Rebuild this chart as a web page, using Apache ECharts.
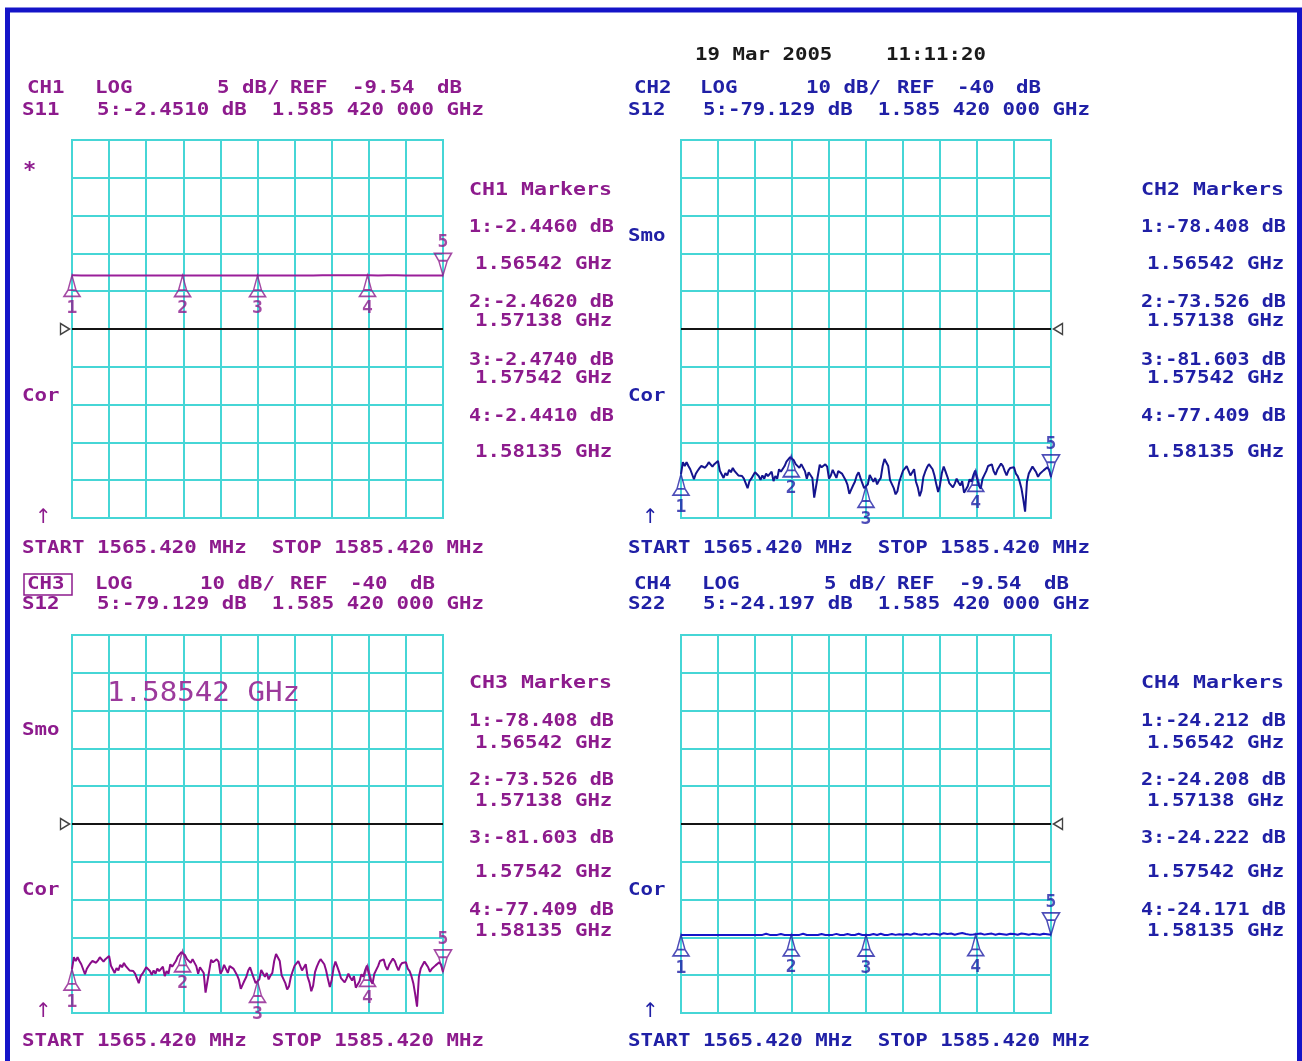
<!DOCTYPE html>
<html>
<head>
<meta charset="utf-8">
<script src="https://cdn.jsdelivr.net/npm/echarts@6/dist/echarts.min.js"></script>
<style>
  html, body { margin: 0; padding: 0; background: #ffffff; }
  #chart { width: 1302px; height: 1061px; }
</style>
</head>
<body>
<div id="chart"></div>
<script>
// Sweep settings shared by all four channels
const START_MHZ = 1565.42;
const STOP_MHZ = 1585.42;

// Marker frequencies (GHz), markers 1..5
const markerFreqGHz = [1.56542, 1.57138, 1.57542, 1.58135, 1.58542];

// Marker readouts (dB) per channel, markers 1..5
const s11Markers = [-2.4460, -2.4620, -2.4740, -2.4410, -2.4510];
const s12Markers = [-78.408, -73.526, -81.603, -77.409, -79.129];
const s22Markers = [-24.212, -24.208, -24.222, -24.171, -24.197];

// S11 trace, 41 points over the sweep (dB)
const s11Trace = [
  -2.446, -2.448, -2.451, -2.455, -2.452, -2.449, -2.453, -2.458, -2.455, -2.460,
  -2.462, -2.459, -2.462, -2.466, -2.470, -2.468, -2.472, -2.469, -2.471, -2.474,
  -2.474, -2.470, -2.466, -2.461, -2.457, -2.452, -2.449, -2.446, -2.443, -2.441,
  -2.441, -2.443, -2.445, -2.447, -2.444, -2.446, -2.449, -2.447, -2.450, -2.452,
  -2.451
];

// S12 trace, 201 points over the sweep (dB)
const s12Trace = [
  -78.41, -75.25, -76.25, -75.25, -76.25, -77.1, -76.7, -79.75, -78.3, -77.5,
  -76.8, -76.25, -75.9, -76.7, -76.1, -75.25, -74.75, -76.4, -75.75, -75.4,
  -74.9, -77.5, -77.5, -79.4, -78.1, -78.75, -77.25, -77.9, -76.75, -77.6,
  -78.1, -78.75, -78.25, -78.9, -79.6, -79.2, -82.1, -80.25, -79.6, -78.75,
  -77.9, -77.6, -78.9, -79.9, -78.75, -79.6, -78.25, -78.9, -79.4, -77.75,
  -80.25, -78.9, -79.6, -77.1, -77.75, -77.25, -76.25, -75.1, -74.6, -73.9,
  -73.55, -74.75, -75.75, -76.25, -76.75, -75.75, -76.25, -77.6, -79.6, -77.9,
  -77.6, -79.4, -84.6, -84.2, -78.75, -75.9, -76.6, -76.25, -75.8, -76.4,
  -79.6, -78.75, -77.25, -77.75, -79.4, -77.6, -78.1, -78.25, -78.75, -80.0,
  -81.25, -83.6, -82.5, -81.4, -80.4, -78.75, -77.9, -79.4, -80.8, -82.1,
  -81.6, -81.1, -78.6, -78.9, -80.4, -79.4, -81.1, -80.1, -79.4, -76.25,
  -74.4, -74.6, -76.25, -80.0, -80.4, -82.1, -83.75, -82.9, -80.4, -78.9,
  -77.5, -77.9, -76.25, -75.8, -78.75, -78.3, -77.1, -80.4, -81.9, -84.25,
  -82.75, -79.2, -77.75, -76.6, -75.75, -75.9, -77.1, -78.75, -81.1, -83.1,
  -81.25, -78.1, -76.4, -77.75, -79.1, -80.75, -80.4, -81.9, -80.9, -79.6,
  -80.6, -81.4, -80.25, -83.3, -83.3, -81.6, -79.75, -80.4, -78.75, -77.45,
  -79.6, -81.4, -82.25, -79.6, -78.6, -77.6, -76.25, -76.75, -75.8, -77.6,
  -78.6, -77.25, -77.75, -75.6, -76.25, -77.6, -78.75, -77.4, -76.75, -76.9,
  -76.6, -78.25, -78.9, -80.25, -82.1, -85.0, -88.3, -80.4, -78.25, -77.75,
  -76.4, -76.9, -77.9, -79.1, -78.3, -78.6, -77.4, -76.9, -76.6, -77.25,
  -79.13
];

// S22 trace, 101 points over the sweep (dB)
const s22Trace = [
  -24.212, -24.210, -24.211, -24.213, -24.210, -24.209, -24.212, -24.211, -24.210, -24.208,
  -24.212, -24.211, -24.209, -24.210, -24.212, -24.213, -24.211, -24.208, -24.210, -24.209,
  -24.211, -24.207, -24.210, -24.050, -24.209, -24.212, -24.208, -24.100, -24.210, -24.208,
  -24.208, -24.209, -24.211, -24.060, -24.212, -24.210, -24.209, -24.212, -24.080, -24.211,
  -24.213, -24.209, -24.070, -24.215, -24.212, -24.100, -24.216, -24.218, -24.050, -24.220,
  -24.222, -24.219, -24.090, -24.217, -24.060, -24.214, -24.210, -24.080, -24.205, -24.120,
  -24.203, -24.100, -24.199, -24.020, -24.120, -24.195, -24.070, -24.190, -24.040, -24.100,
  -24.186, -23.980, -24.080, -24.020, -24.180, -24.050, -23.970, -24.090, -24.174, -24.171,
  -24.100, -24.020, -24.175, -24.080, -24.040, -24.180, -24.060, -24.120, -24.183, -24.050,
  -24.100, -24.186, -24.030, -24.090, -24.190, -24.070, -24.130, -24.193, -24.060, -24.120,
  -24.197
];

// ---- styling ----
const PURPLE = '#8d1b8d';
const BLUE = '#2020a6';
const GRID_CYAN = '#46d6d6';
const FONT = 'bold 17px "DejaVu Sans Mono"';
const TEXT_SX = 1.22;

// Marker glyphs: up-pointing marker sits below the trace, down-pointing above it
const MARK_UP = 'path://M8,0L4.5,14L11.5,14ZM4.5,14L1,20L15,20L11.5,14';
const MARK_DOWN = 'path://M1,0L15,0L11.5,7L4.5,7ZM4.5,7L11.5,7L8,21Z';
const REF_RIGHT = 'path://M0,0L10,5L0,10Z';
const REF_LEFT = 'path://M10,0L0,5L10,10Z';

const panels = [
  { name: 'CH1', param: 'S11', trace: s11Trace, markers: s11Markers, ref: -9.54, perDiv: 5, digits: 4,
    rect: { left: 72, top: 140, width: 371, height: 378 }, traceColor: '#9a1f9a', color: PURPLE, refSide: 'left' },
  { name: 'CH2', param: 'S12', trace: s12Trace, markers: s12Markers, ref: -40, perDiv: 10, digits: 3,
    rect: { left: 681, top: 140, width: 370, height: 378 }, traceColor: '#14148e', color: BLUE, refSide: 'right' },
  { name: 'CH3', param: 'S12', trace: s12Trace, markers: s12Markers, ref: -40, perDiv: 10, digits: 3,
    rect: { left: 72, top: 635, width: 371, height: 378 }, traceColor: '#8a0c8a', color: PURPLE, refSide: 'left' },
  { name: 'CH4', param: 'S22', trace: s22Trace, markers: s22Markers, ref: -9.54, perDiv: 5, digits: 3,
    rect: { left: 681, top: 635, width: 370, height: 378 }, traceColor: '#1616c8', color: BLUE, refSide: 'right' }
];

const grids = [], xAxes = [], yAxes = [], series = [];

panels.forEach((p, k) => {
  grids.push(Object.assign({ show: true, borderColor: GRID_CYAN, borderWidth: 2, backgroundColor: 'transparent' }, p.rect));
  const hidden = { show: false };
  // graticule: 10 x 10 divisions
  const grat = {
    gridIndex: k, type: 'value', min: 0, max: 10, interval: 1,
    axisLine: hidden, axisTick: hidden, axisLabel: hidden,
    splitLine: { show: true, lineStyle: { color: GRID_CYAN, width: 2 } }
  };
  xAxes.push(Object.assign({}, grat));
  yAxes.push(Object.assign({}, grat));
  // measurement scales
  xAxes.push({ gridIndex: k, type: 'value', min: START_MHZ, max: STOP_MHZ, show: false });
  yAxes.push({ gridIndex: k, type: 'value', min: p.ref - 5 * p.perDiv, max: p.ref + 5 * p.perDiv, show: false });

  const xi = 2 * k + 1, yi = 2 * k + 1;
  const n = p.trace.length;
  const step = (STOP_MHZ - START_MHZ) / (n - 1);

  series.push({
    type: 'line', xAxisIndex: xi, yAxisIndex: yi, z: 4,
    data: p.trace.map((v, i) => [START_MHZ + i * step, v]),
    showSymbol: false, symbol: 'none', animation: false, silent: true,
    lineStyle: { color: p.traceColor, width: 2 },
    markLine: {
      silent: true, symbol: ['none', 'none'], animation: false,
      label: { show: false },
      lineStyle: { color: '#141414', width: 2, type: 'solid' },
      data: [{ yAxis: p.ref }]
    }
  });

  // reference position pointer
  series.push({
    type: 'scatter', xAxisIndex: xi, yAxisIndex: yi, z: 5, clip: false, silent: true, animation: false,
    data: [[p.refSide === 'left' ? START_MHZ : STOP_MHZ, p.ref]],
    symbol: p.refSide === 'left' ? REF_RIGHT : REF_LEFT,
    symbolSize: [9, 11],
    symbolOffset: [p.refSide === 'left' ? -7 : 7, 0],
    itemStyle: { color: 'rgba(255,255,255,0)', borderColor: '#141414', borderWidth: 1.5 }
  });

  // markers 1..4
  series.push({
    type: 'scatter', xAxisIndex: xi, yAxisIndex: yi, z: 6, clip: false, silent: true, animation: false,
    data: markerFreqGHz.slice(0, 4).map((f, i) => [f * 1000, p.markers[i]]),
    symbol: MARK_UP, symbolSize: [16, 21], symbolOffset: [0, '50%'],
    itemStyle: { color: 'rgba(255,255,255,0)', borderColor: p.color, borderWidth: 1.6 },
    label: {
      show: true, position: 'bottom', distance: 2,
      formatter: (d) => String(d.dataIndex + 1),
      color: p.color, fontFamily: 'DejaVu Sans Mono', fontWeight: 'bold', fontSize: 18
    }
  });

  // marker 5 (active marker)
  series.push({
    type: 'scatter', xAxisIndex: xi, yAxisIndex: yi, z: 6, clip: false, silent: true, animation: false,
    data: [[markerFreqGHz[4] * 1000, p.markers[4]]],
    symbol: MARK_DOWN, symbolSize: [17, 22], symbolOffset: [0, '-50%'],
    itemStyle: { color: 'rgba(255,255,255,0)', borderColor: p.color, borderWidth: 1.6 },
    label: {
      show: true, position: 'top', distance: 1,
      formatter: '5',
      color: p.color, fontFamily: 'DejaVu Sans Mono', fontWeight: 'bold', fontSize: 18
    }
  });
});

// ---- annotation text ----
function txt(str, x, y, color, font, sx) {
  return {
    type: 'text', x: x, y: y, scaleX: sx || TEXT_SX, z: 10, silent: true,
    style: { text: str, fill: color, font: font || FONT, textVerticalAlign: 'middle', verticalAlign: 'middle' }
  };
}

function fmtFreq(ghz) {
  const s = ghz.toFixed(9);            // 1.585420000
  return s.slice(0, 5) + ' ' + s.slice(5, 8) + ' ' + s.slice(8, 11);
}

const texts = [];

// date / time stamp
texts.push(txt('19 Mar 2005', 695, 56, '#1a1a1a'));
texts.push(txt('11:11:20', 886, 56, '#1a1a1a'));

// channel header lines
const headerRows = [
  { p: 0, x: 27, y: 89, tokens: [['CH1', 0], ['LOG', 68], ['5 dB/', 190], ['REF', 263], ['-9.54', 325], ['dB', 410]] },
  { p: 1, x: 634, y: 89, tokens: [['CH2', 0], ['LOG', 66], ['10 dB/', 172], ['REF', 263], ['-40', 323], ['dB', 382]] },
  { p: 2, x: 27, y: 585, tokens: [['CH3', 0], ['LOG', 68], ['10 dB/', 173], ['REF', 263], ['-40', 323], ['dB', 383]] },
  { p: 3, x: 634, y: 585, tokens: [['CH4', 0], ['LOG', 68], ['5 dB/', 190], ['REF', 263], ['-9.54', 325], ['dB', 410]] }
];
headerRows.forEach(r => {
  const c = panels[r.p].color;
  r.tokens.forEach(t => texts.push(txt(t[0], r.x + t[1], r.y, c)));
});

const paramRows = [
  { p: 0, x: 22, y: 111 }, { p: 1, x: 628, y: 111 },
  { p: 2, x: 22, y: 605 }, { p: 3, x: 628, y: 605 }
];
paramRows.forEach(r => {
  const P = panels[r.p];
  const v = P.markers[4].toFixed(P.digits);
  texts.push(txt(P.param + '   5:' + v + ' dB  ' + fmtFreq(markerFreqGHz[4]) + ' GHz', r.x, r.y, P.color));
});

// box around the active channel label
const chBox = { type: 'rect', z: 10, silent: true, shape: { x: 24, y: 574, width: 48, height: 21 },
  style: { fill: 'none', stroke: PURPLE, lineWidth: 1.5 } };

// status annotations beside each graticule
const ARROW_FONT = 'normal 20px "DejaVu Sans"';
texts.push(txt('*', 23, 171, PURPLE, 'bold 22px "DejaVu Sans Mono"', 1));
texts.push(txt('Cor', 22, 397, PURPLE));
texts.push(txt('\u2191', 35, 518, PURPLE, ARROW_FONT, 1));
texts.push(txt('Smo', 628, 237, BLUE));
texts.push(txt('Cor', 628, 397, BLUE));
texts.push(txt('\u2191', 642, 518, BLUE, ARROW_FONT, 1));
texts.push(txt('Smo', 22, 731, PURPLE));
texts.push(txt('Cor', 22, 891, PURPLE));
texts.push(txt('\u2191', 35, 1012, PURPLE, ARROW_FONT, 1));
texts.push(txt('Cor', 628, 891, BLUE));
texts.push(txt('\u2191', 642, 1012, BLUE, ARROW_FONT, 1));

// sweep range lines
const sweepText = 'START ' + START_MHZ.toFixed(3) + ' MHz  STOP ' + STOP_MHZ.toFixed(3) + ' MHz';
texts.push(txt(sweepText, 22, 549, PURPLE));
texts.push(txt(sweepText, 628, 549, BLUE));
texts.push(txt(sweepText, 22, 1042, PURPLE));
texts.push(txt(sweepText, 628, 1042, BLUE));

// active marker frequency shown inside CH3
texts.push(txt(markerFreqGHz[4].toFixed(5) + ' GHz', 107, 694, '#9c3a9c', 'normal 27px "DejaVu Sans Mono"', 1.08));

// marker readout tables
const tableRowsTop = [191, 228, 265, 303, 322, 361, 379, 417, 453];
const tableRowsBottom = [684, 722, 744, 781, 802, 839, 873, 911, 932];
[[0, 469, tableRowsTop], [1, 1141, tableRowsTop], [2, 469, tableRowsBottom], [3, 1141, tableRowsBottom]].forEach(t => {
  const P = panels[t[0]], x = t[1], rows = t[2];
  texts.push(txt(P.name + ' Markers', x, rows[0], P.color, FONT, 1.27));
  for (let i = 0; i < 4; i++) {
    texts.push(txt((i + 1) + ':' + P.markers[i].toFixed(P.digits) + ' dB', x, rows[1 + 2 * i], P.color, FONT, 1.18));
    texts.push(txt(markerFreqGHz[i].toFixed(5) + ' GHz', x + 6, rows[2 + 2 * i], P.color));
  }
});

// outer instrument frame
const frame = { type: 'rect', z: 20, silent: true, shape: { x: 7.5, y: 10, width: 1292, height: 1080 },
  style: { fill: 'none', stroke: '#1414c8', lineWidth: 5 } };

const chart = echarts.init(document.getElementById('chart'), null, { renderer: 'canvas' });
chart.setOption({
  backgroundColor: '#ffffff',
  animation: false,
  grid: grids,
  xAxis: xAxes,
  yAxis: yAxes,
  series: series,
  graphic: { elements: [frame, chBox].concat(texts) }
});
</script>
</body>
</html>
